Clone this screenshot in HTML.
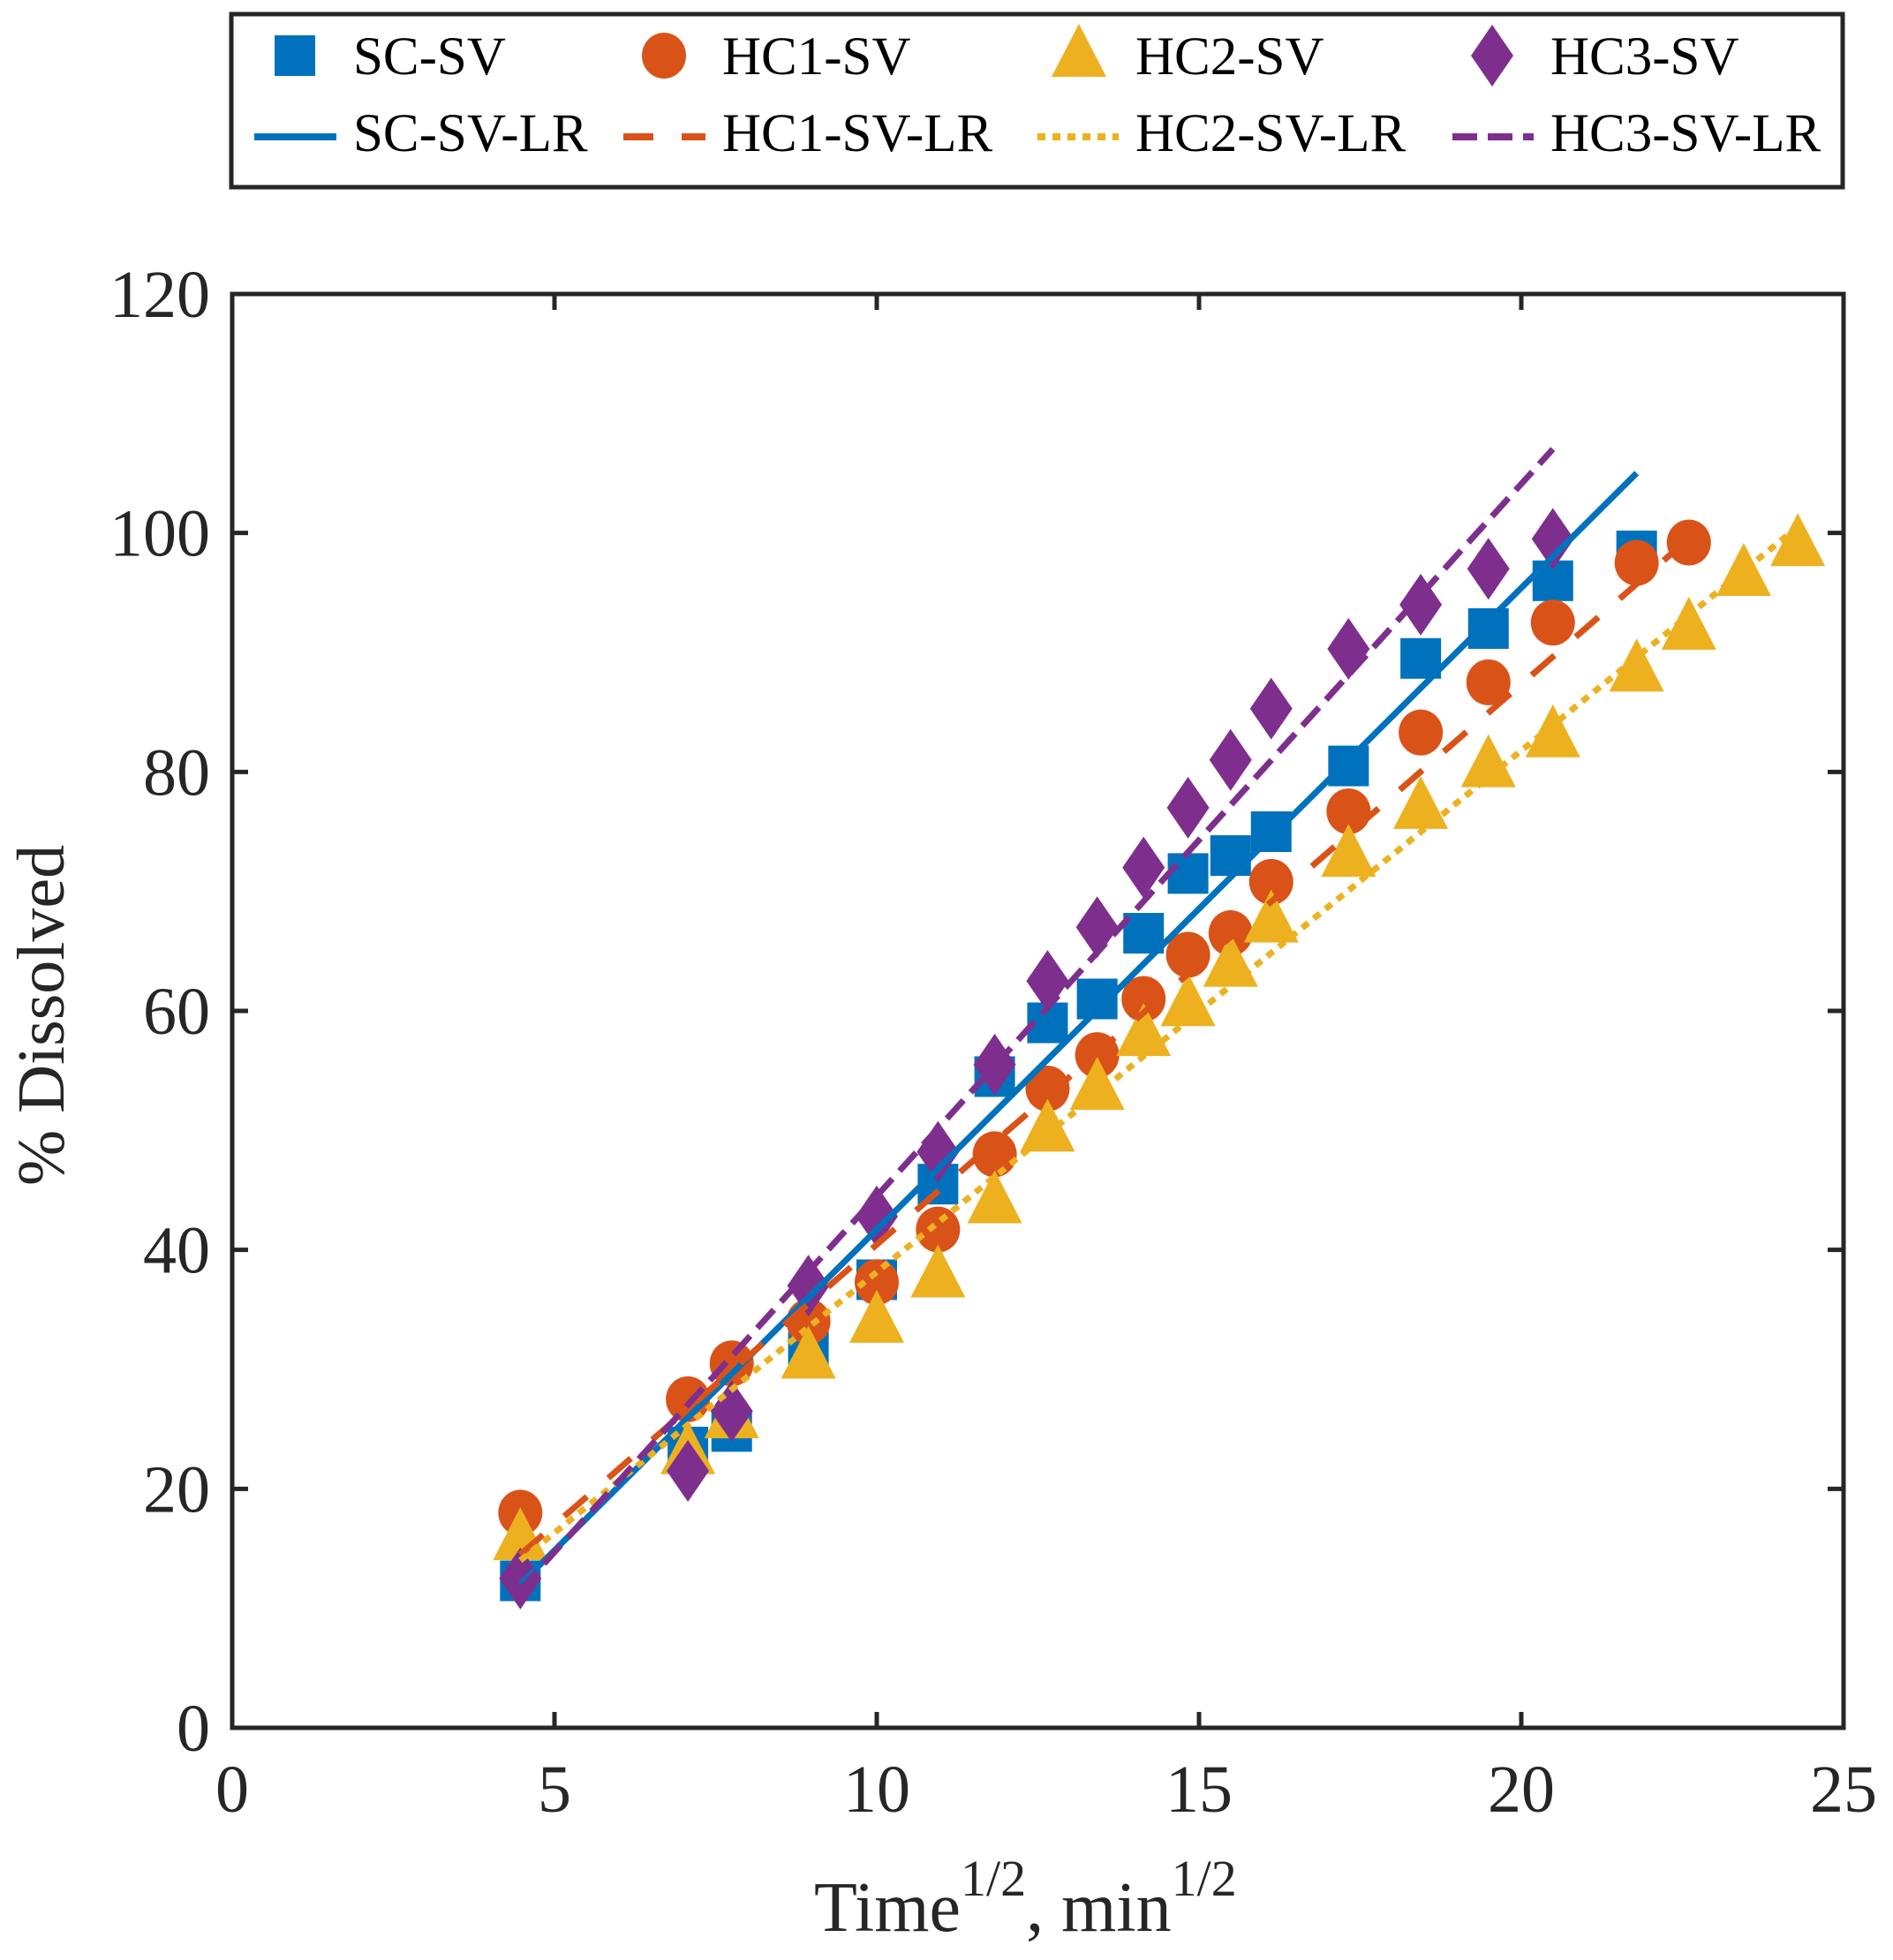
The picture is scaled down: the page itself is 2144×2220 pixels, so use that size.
<!DOCTYPE html>
<html><head><meta charset="utf-8"><style>
html,body{margin:0;padding:0;background:#fff}
svg{display:block;font-family:"Liberation Serif",serif}
</style></head><body>
<svg id="chart" width="2144" height="2220" viewBox="0 0 2144 2220" xmlns="http://www.w3.org/2000/svg">
<rect width="2144" height="2220" fill="#fff"/>
<g id="plot"></g>
<g id="axes"></g>
<g id="legend"></g>
</svg>
<script>
const xTicks=[0,5,10,15,20,25];
const yTicks=[0,20,40,60,80,100,120];
const seriesNames=["SC-SV","HC1-SV","HC2-SV","HC3-SV"];
const lrNames=["SC-SV-LR","HC1-SV-LR","HC2-SV-LR","HC3-SV-LR"];
const xSC=[4.47,7.07,7.75,8.94,10,10.95,11.83,12.65,13.42,14.14,14.83,15.49,16.12,17.32,18.44,19.49,20.49,21.79];
const ySC=[12.3,23.5,24.8,31.5,37.5,45.5,54.5,59,61,66.5,71.5,73,75,80.5,89.5,92,96,98.5];
const xHC1=[4.47,7.07,7.75,8.94,10,10.95,11.83,12.65,13.42,14.14,14.83,15.49,16.12,17.32,18.44,19.49,20.49,21.79,22.6];
const yHC1=[18,27.5,30.5,34,37.3,41.7,48,53.5,56.3,61,64.7,66.5,70.8,76.7,83.3,87.5,92.5,97.5,99.2];
const xHC2=[4.47,7.07,7.75,8.94,10,10.95,11.83,12.65,13.42,14.14,14.83,15.49,16.12,17.32,18.44,19.49,20.49,21.79,22.6,23.45,24.29];
const yHC2=[15.8,23,26,31,34,37.8,44,50,53.5,58,60.5,63.8,67.5,73,77,80.5,83,88.5,92,96.5,99];
const xHC3=[4.47,7.07,7.75,8.94,10,10.95,11.83,12.65,13.42,14.14,14.83,15.49,16.12,17.32,18.44,19.49,20.49];
const yHC3=[12.5,21.5,26.5,37,42.8,48.2,55.5,62.5,67,72,77,81,85.3,90.3,94,97,99.5];
const lrSlope=[5.37,4.69,4.364,5.96];
const lrIntercept=[-12.0,-6.46,-5.5,-15.1];

const NS="http://www.w3.org/2000/svg";
const L=263,R=2088,T=333,B=1957;
const sx=v=>L+(v-0)/(25-0)*(R-L);
const sy=v=>B-(v-0)/(120-0)*(B-T);
const colors=["#0072BD","#D95319","#EDB120","#7E2F8E"];
const dashes=["none","34 32","9 8","28 12"];
function el(tag,attrs,parent){const e=document.createElementNS(NS,tag);for(const k in attrs)e.setAttribute(k,attrs[k]);parent.appendChild(e);return e;}
function marker(i,cx,cy,parent){
  const c=colors[i];let m;
  if(i===0)m=el("rect",{x:cx-23,y:cy-23,width:46,height:46,fill:c},parent);
  else if(i===1)m=el("ellipse",{cx:cx,cy:cy,rx:25,ry:26,fill:c},parent);
  else if(i===2)m=el("polygon",{points:`${cx},${cy-36} ${cx+31},${cy+24} ${cx-31},${cy+24}`,fill:c},parent);
  else m=el("polygon",{points:`${cx},${cy-35} ${cx+24},${cy} ${cx},${cy+35} ${cx-24},${cy}`,fill:c},parent);
  return m;
}
const plot=document.getElementById("plot");
const xs=[xSC,xHC1,xHC2,xHC3], ys=[ySC,yHC1,yHC2,yHC3];
for(let i=0;i<4;i++){
  const g=el("g",{},plot);
  
  
  for(let j=0;j<xs[i].length;j++){
    const m=marker(i,sx(xs[i][j]),sy(ys[i][j]),g);
    
    
  }
}
for(let i=0;i<4;i++){
  const x0=xs[i][0], x1=xs[i][xs[i].length-1];
  const ln=el("line",{x1:sx(x0),y1:sy(lrSlope[i]*x0+lrIntercept[i]),x2:sx(x1),y2:sy(lrSlope[i]*x1+lrIntercept[i]),stroke:colors[i],"stroke-width":7,"stroke-dasharray":dashes[i]},plot);
  
  
}
const axes=document.getElementById("axes");
const box=el("rect",{x:L,y:T,width:R-L,height:B-T,fill:"none",stroke:"#262626","stroke-width":5},axes);


xTicks.forEach(v=>{
  const x=sx(v);
  el("line",{x1:x,y1:B,x2:x,y2:B-18,stroke:"#262626","stroke-width":5},axes);
  el("line",{x1:x,y1:T,x2:x,y2:T+18,stroke:"#262626","stroke-width":5},axes);
  const t=el("text",{x:x,y:2052,"font-size":76,"text-anchor":"middle",fill:"#262626"},axes);
  t.textContent=v;
  
  
});
yTicks.forEach(v=>{
  const y=sy(v);
  el("line",{x1:L,y1:y,x2:L+18,y2:y,stroke:"#262626","stroke-width":5},axes);
  el("line",{x1:R,y1:y,x2:R-18,y2:y,stroke:"#262626","stroke-width":5},axes);
  const t=el("text",{x:238,y:y+26,"font-size":76,"text-anchor":"end",fill:"#262626"},axes);
  t.textContent=v;
  
  
});
const xt=el("text",{x:922,y:2187,"font-size":80,fill:"#262626"},axes);


xt.innerHTML='Time<tspan dy="-40" font-size="58">1/2</tspan><tspan dy="40">, min</tspan><tspan dy="-40" font-size="58">1/2</tspan>';
const yt=el("text",{x:0,y:0,"font-size":76,"text-anchor":"middle",fill:"#262626",transform:"translate(72,1150) rotate(-90)"},axes);
yt.textContent="% Dissolved";



const lg=document.getElementById("legend");
el("rect",{x:262,y:16,width:1825,height:196,fill:"#fff",stroke:"#262626","stroke-width":5},lg);
const colX=[334,752,1222,1690], txtX=[400,818,1286,1756], lineX=[[288,381],[706,799],[1175,1267],[1645,1737]];
for(let i=0;i<4;i++){
  const m=marker(i,colX[i],63,lg);
  
  
  const t=el("text",{x:txtX[i],y:84,"font-size":61,fill:"#000"},lg);
  t.textContent=seriesNames[i];
  
  
  const l=el("line",{x1:lineX[i][0],y1:155,x2:lineX[i][1],y2:155,stroke:colors[i],"stroke-width":8,"stroke-dasharray":dashes[i]},lg);
  
  
  const t2=el("text",{x:txtX[i],y:171,"font-size":61,fill:"#000"},lg);
  t2.textContent=lrNames[i];
  
  
}
</script>
</body></html>
